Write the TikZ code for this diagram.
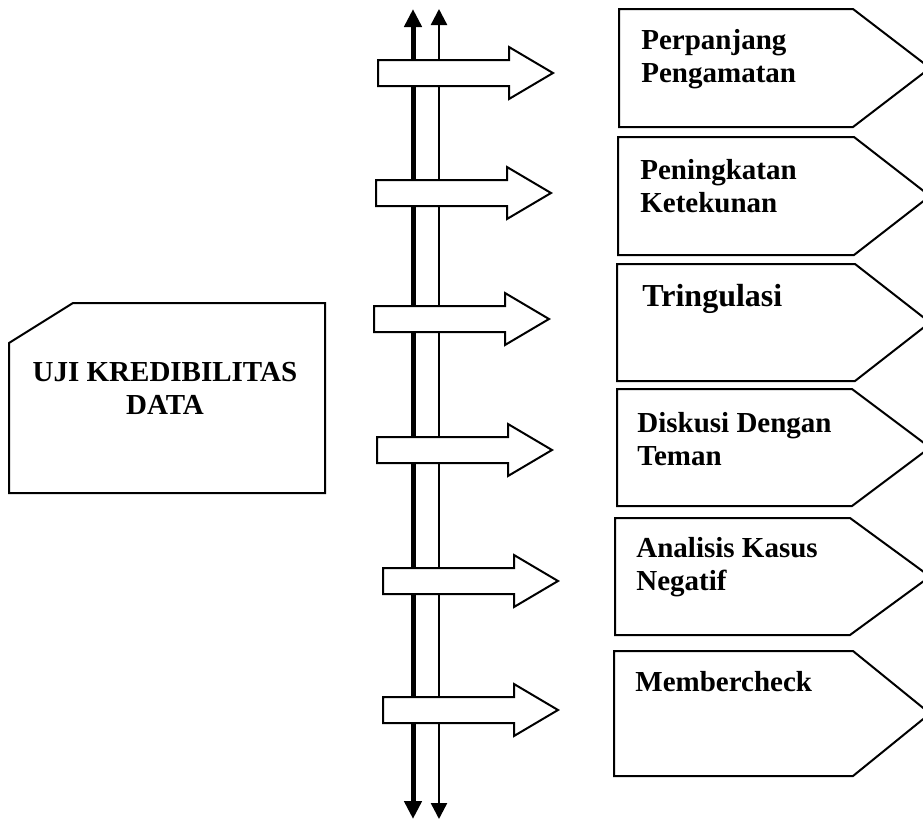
\documentclass[tikz,border=0pt]{standalone}
\usepackage{fontspec}
\setmainfont{Liberation Serif}
\usetikzlibrary{arrows.meta}
\tikzset{>={Triangle[length=9pt,width=8.5pt]}}
\tikzset{
    outline/.style={draw,line width=1pt,fill=white},
    itemtext/.style={inner sep=0pt,anchor=north west,align=left,font=\bfseries\fontsize{14.5}{16.5}\selectfont},
    bigtext/.style={itemtext,font=\bfseries\fontsize{16}{19}\selectfont},
    thickline/.style={line width=2.5pt,<->},
    thinline/.style={line width=1.2pt,<->,>={Triangle[length=8pt,width=8pt]}},
}

\begin{document}
\begin{tikzpicture}[x=0.5pt,y=-0.5pt]
    \useasboundingbox (0,0) rectangle (923,820);
    % double vertical line
    \coordinate (thicktop) at (413,9);
    \coordinate (thickbot) at (413,819);
    \coordinate (thintop) at (439,9);
    \coordinate (thinbot) at (439,819);
    \draw[thickline] (thickbot) -- (thicktop);
    \draw[thinline] (thinbot) -- (thintop);

    % block arrows across the lines
    \foreach \ax/\ay in {378/73,376/193,374/319,377/450,383/581,383/710}
        \draw[outline] (\ax,\ay-13) -- ++(131,0) -- ++(0,-13) -- (\ax+175,\ay)
            -- (\ax+131,\ay+26) -- ++(0,-13) -- (\ax,\ay+13) -- cycle;

    % pentagon boxes
    \foreach \l/\t/\b/\c in {619/9/127/853,618/137/255/854,617/264/381/855,
                             617/389/506/852,615/518/635/850,614/651/776/853}
        \draw[outline] (\l,\t) -- (\c,\t) -- (930,{(\t+\b)/2}) -- (\c,\b) -- (\l,\b) -- cycle;

    % left box
    \draw[outline] (9,343) -- (73,303) -- (325,303) -- (325,493) -- (9,493) -- cycle;
    \node[itemtext,anchor=north,align=center] (uji) at (165,362) {UJI KREDIBILITAS\\DATA};

    \node[itemtext] (perpanjang) at (641,29) {Perpanjang\\Pengamatan};
    \node[itemtext] (ketekunan) at (640,159) {Peningkatan\\Ketekunan};
    \node[bigtext] (tringulasi) at (642,284) {Tringulasi};
    \node[itemtext] (diskusi) at (637,412) {Diskusi Dengan\\Teman};
    \node[itemtext] (negatif) at (636,537) {Analisis Kasus\\Negatif};
    \node[itemtext] (member) at (635,671) {Membercheck};
\end{tikzpicture}
\end{document}
